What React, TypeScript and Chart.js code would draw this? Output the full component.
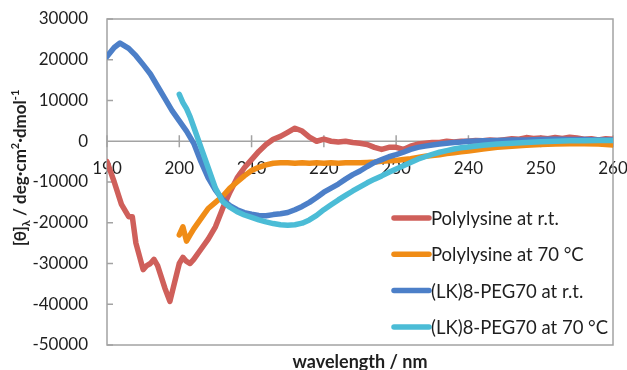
import React, { useEffect, useRef } from "react";
import { Chart, registerables } from "chart.js";

Chart.register(...registerables);

// ---- data ----
const seriesLabels = [
  "Polylysine at r.t.",
  "Polylysine at 70 °C",
  "(LK)8-PEG70 at r.t.",
  "(LK)8-PEG70 at 70 °C",
];
const seriesColors = ["#cf5f5a", "#f08c16", "#4c7fc8", "#4bbcd6"];

const polyRtNm = [
  190, 191, 192, 193, 193.5, 194, 195, 195.5, 196, 196.5, 197, 198, 198.7, 199.3, 200, 200.5, 201, 201.5, 202,
  203, 204, 205, 206, 207, 208, 209, 210, 211, 212, 213, 214, 215, 216, 217, 218, 219, 220, 221, 222, 223, 224,
  225, 226, 227, 228, 229, 230, 231, 232, 233, 234, 235, 236, 237, 238, 239, 240, 241, 242, 243, 244, 245, 246,
  247, 248, 249, 250, 251, 252, 253, 254, 255, 256, 257, 258, 259, 260,
];
const polyRtVal = [
  -5000, -10000, -15500, -18500, -18500, -25000, -31500, -30500, -30000, -29000, -30500, -36000, -39300, -35000,
  -30000, -28500, -29500, -30000, -29000,
  -26500, -24000, -21000, -16500, -12500, -9000, -6500, -4500, -2500, -800, 500, 1200, 2200, 3200, 2500, 1000, 0,
  500, 0, -200, 0, -300, -500, -800, -1500, -2000, -1500, -1500, -2000, -1200, -700, -500, -300, -300, 0, -200, 0,
  0, 200, 100, 300, 200, 400, 600, 500, 900, 700, 800, 600, 900, 700, 1000, 800, 500, 600, 300, 600, 500,
];

const poly70Nm = [
  200, 200.5, 201, 201.5, 202,
  203, 204, 205, 206, 207, 208, 209, 210, 211, 212, 213, 214, 215, 216, 217, 218, 219, 220, 221, 222, 223, 224,
  225, 226, 227, 228, 229, 230, 231, 232, 233, 234, 235, 236, 237, 238, 239, 240,
  242, 244, 246, 248, 250, 252, 254, 256, 258, 260,
];
const poly70Val = [
  -23000, -21000, -24500, -23000, -21500,
  -19000, -16500, -15000, -13500, -11500, -10000, -8500, -7200, -6400, -5800, -5400, -5300, -5300, -5400, -5300,
  -5400, -5300, -5400, -5300, -5400, -5300, -5300, -5300, -5200, -5100, -4900, -4800, -4700, -4500, -4300, -4000,
  -3700, -3500, -3300, -3000, -2800, -2600, -2400,
  -1900, -1500, -1200, -1000, -800, -700, -600, -600, -700, -900,
];

const lkRtNm = [
  190, 191, 191.8,
  193, 194, 195, 196, 197, 198, 199, 200, 201, 202, 203, 204, 205, 206, 207, 208, 209, 210, 211, 212, 213, 214,
  215, 216, 217, 218, 219, 220, 221, 222, 223, 224, 225, 226, 227, 228, 229, 230, 231, 232, 233, 234, 235, 236,
  237, 238, 239, 240,
  242, 244, 246, 248, 250, 252, 254, 256, 258, 260,
];
const lkRtVal = [
  20800, 23000, 24100,
  22800, 21000, 18800, 16500, 13500, 10500, 7500, 5000, 2500, -500, -5000, -9000, -12000, -14300, -15800, -16800,
  -17500, -17900, -18200, -18300, -18000, -17800, -17500, -16800, -16000, -15000, -13800, -12500, -11500, -10500,
  -9300, -8200, -7300, -6200, -5200, -4500, -3800, -3300, -2700, -2000, -1500, -1200, -900, -700, -500, -300,
  -200, 0,
  100, 200, 300, 300, 400, 500, 400, 400, 300, 300,
];

const lk70Nm = [
  200, 200.5, 201, 201.5, 202,
  203, 204, 205, 206, 207, 208, 209, 210, 211, 212, 213, 214, 215, 216, 217, 218, 219, 220, 221, 222, 223, 224,
  225, 226, 227, 228, 229, 230, 231, 232, 233, 234, 235, 236, 237, 238, 239, 240,
  242, 244, 246, 248, 250, 252, 254, 256, 258, 260,
];
const lk70Val = [
  11500, 9500, 8000, 6000, 3500,
  -1500, -6500, -11500, -14800, -16200, -17300, -18100, -18700, -19300, -19800, -20200, -20500, -20600, -20500,
  -20100, -19300, -18200, -16800, -15600, -14400, -13300, -12200, -11200, -10200, -9300, -8500, -7600, -6800,
  -6000, -5200, -4400, -3800, -3200, -2700, -2300, -1900, -1600, -1400,
  -1000, -700, -500, -300, -100, 0, 100, 100, 200, 200,
];

const xMin = 190;
const xMax = 260;
const xStep = 10;
const yMin = -50000;
const yMax = 30000;
const yStep = 10000;

const xTitle = "wavelength / nm";

const FONT = "Lato, 'Open Sans', sans-serif";
const TEXT = "#1f1f1f";
const AXIS = "#a3a3a3";

const pairs = (xs: number[], ys: number[]) => xs.map((x, i) => ({ x, y: ys[i] }));

const chromePlugin = {
  id: "chrome",
  beforeDatasetsDraw(chart: any) {
    const { ctx, chartArea: a, scales } = chart;
    const xs = scales.x;
    const ys = scales.y;
    const y0 = ys.getPixelForValue(0);
    ctx.save();
    ctx.strokeStyle = AXIS;
    ctx.lineWidth = 1.5;
    ctx.strokeRect(a.left, a.top, a.right - a.left, a.bottom - a.top);
    ctx.beginPath();
    ctx.moveTo(a.left, y0);
    ctx.lineTo(a.right, y0);
    ys.ticks.forEach((t: any) => {
      const py = ys.getPixelForValue(t.value);
      ctx.moveTo(a.left, py);
      ctx.lineTo(a.left + 6, py);
    });
    xs.ticks.forEach((t: any) => {
      const px = xs.getPixelForValue(t.value);
      ctx.moveTo(px, y0 - 6);
      ctx.lineTo(px, y0 + 6);
    });
    ctx.stroke();
    ctx.restore();
  },
  afterDraw(chart: any) {
    const { ctx, chartArea: a } = chart;
    ctx.save();
    // legend
    const rowY0 = a.bottom - 127;
    const rowStep = 36.3;
    chart.data.datasets.forEach((ds: any, i: number) => {
      const yy = rowY0 + i * rowStep;
      ctx.strokeStyle = ds.borderColor;
      ctx.lineWidth = 5.5;
      ctx.lineCap = "round";
      ctx.beginPath();
      ctx.moveTo(a.right - 219, yy);
      ctx.lineTo(a.right - 184, yy);
      ctx.stroke();
      ctx.fillStyle = TEXT;
      ctx.font = `18.5px ${FONT}`;
      ctx.textAlign = "left";
      ctx.textBaseline = "middle";
      ctx.fillText(ds.label, a.right - 182, yy + 1);
    });
    // x title
    ctx.fillStyle = TEXT;
    ctx.font = `bold 18px ${FONT}`;
    ctx.textAlign = "center";
    ctx.textBaseline = "middle";
    ctx.fillText(xTitle, (a.left + a.right) / 2, 362);
    // y title with sub/superscripts
    const big = `bold 17px ${FONT}`;
    const small = `bold 11px ${FONT}`;
    const segs = [
      { t: "[θ]", f: big, dy: 0 },
      { t: "λ", f: small, dy: 5 },
      { t: " / deg·cm", f: big, dy: 0 },
      { t: "2", f: small, dy: -6 },
      { t: "·dmol", f: big, dy: 0 },
      { t: "-1", f: small, dy: -6 },
    ];
    let total = 0;
    segs.forEach((s) => {
      ctx.font = s.f;
      total += ctx.measureText(s.t).width;
    });
    ctx.translate(21, 168);
    ctx.rotate(-Math.PI / 2);
    ctx.textAlign = "left";
    ctx.textBaseline = "middle";
    let cx = -total / 2;
    segs.forEach((s) => {
      ctx.font = s.f;
      ctx.fillText(s.t, cx, s.dy);
      cx += ctx.measureText(s.t).width;
    });
    ctx.restore();
  },
};

export default function App() {
  const ref = useRef<HTMLCanvasElement | null>(null);
  useEffect(() => {
    if (!ref.current) return;
    const data = [
      pairs(polyRtNm, polyRtVal),
      pairs(poly70Nm, poly70Val),
      pairs(lkRtNm, lkRtVal),
      pairs(lk70Nm, lk70Val),
    ];
    const chart = new Chart(ref.current, {
      type: "line",
      data: {
        datasets: data.map((d, i) => ({
          label: seriesLabels[i],
          data: d,
          borderColor: seriesColors[i],
          backgroundColor: seriesColors[i],
          borderWidth: 5.5,
          pointRadius: 0,
          tension: 0,
          borderJoinStyle: "round" as const,
          borderCapStyle: "round" as const,
          order: 3 - i,
        })),
      },
      options: {
        animation: false,
        responsive: false,
        devicePixelRatio: 1,
        layout: { padding: { top: 19, right: 14, bottom: 25, left: 0 } },
        plugins: { legend: { display: false }, tooltip: { enabled: false } },
        scales: {
          x: {
            type: "linear",
            min: xMin,
            max: xMax,
            position: { y: 0 } as any,
            grid: { display: false, drawTicks: false },
            border: { display: false },
            ticks: {
              stepSize: xStep,
              padding: 17,
              color: TEXT,
              font: { family: FONT, size: 17 },
              maxRotation: 0,
              callback: (v: any) => String(v),
            },
            afterFit: (scale: any) => {
              scale.paddingLeft = 0;
              scale.paddingRight = 0;
            },
          },
          y: {
            type: "linear",
            min: yMin,
            max: yMax,
            grid: { display: false, drawTicks: false },
            border: { display: false },
            ticks: {
              stepSize: yStep,
              padding: 19,
              color: TEXT,
              font: { family: FONT, size: 17 },
              callback: (v: any) => String(v),
            },
            afterFit: (scale: any) => {
              scale.width = 107;
              scale.paddingTop = 0;
              scale.paddingBottom = 0;
            },
          },
        },
      },
      plugins: [chromePlugin],
    });
    return () => chart.destroy();
  }, []);
  return (
    <div style={{ position: "fixed", left: 0, top: 0, width: 627, height: 370, background: "#fff" }}>
      <canvas ref={ref} width={627} height={370} />
    </div>
  );
}
